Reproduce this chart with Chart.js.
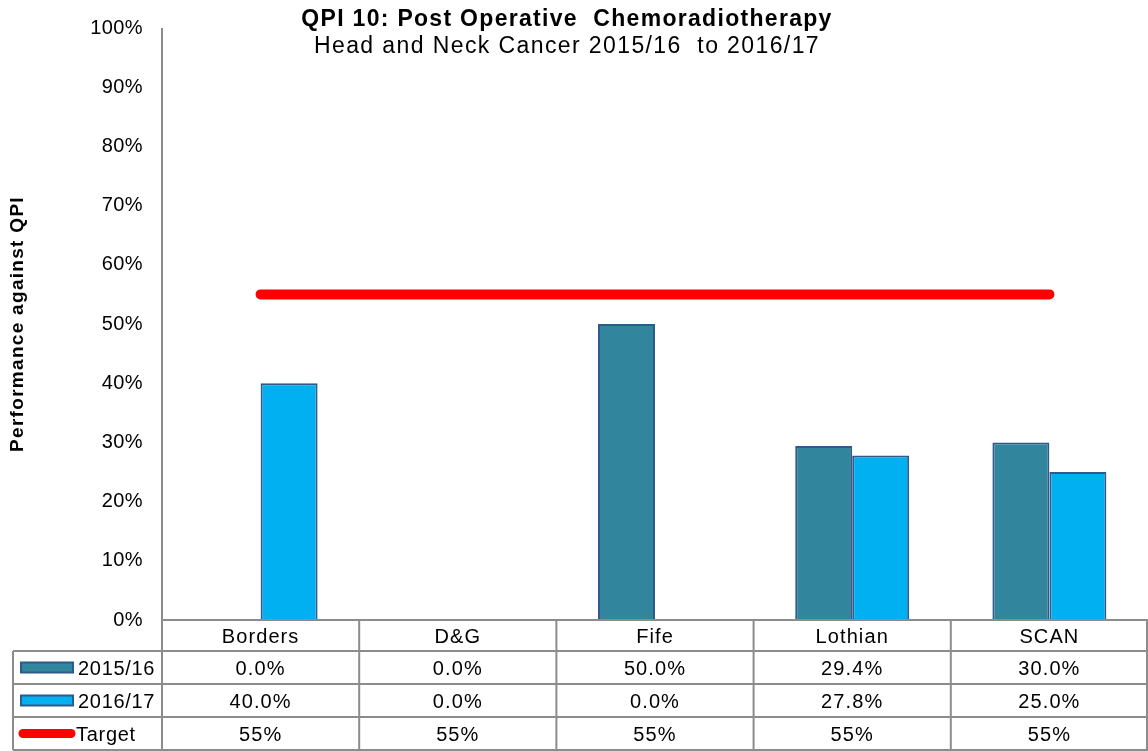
<!DOCTYPE html>
<html>
<head>
<meta charset="utf-8">
<script src="https://cdn.jsdelivr.net/npm/chart.js@4"></script>
<style>
html,body{margin:0;padding:0;background:#fff;}
#wrap{width:1148px;height:751px;position:relative;}
</style>
</head>
<body>
<div id="wrap"><canvas id="c" width="1148" height="751"></canvas></div>
<script>
const categories = ['Borders', 'D&G', 'Fife', 'Lothian', 'SCAN'];
const series2015 = [0.0, 0.0, 50.0, 29.4, 30.0];
const series2016 = [40.0, 0.0, 0.0, 27.8, 25.0];
const target = [55, 55, 55, 55, 55];
const seriesNames = ['2015/16', '2016/17', 'Target'];
const yTicks = [0, 10, 20, 30, 40, 50, 60, 70, 80, 90, 100];
const titleText = 'QPI 10: Post Operative  Chemoradiotherapy';
const subtitleText = 'Head and Neck Cancer 2015/16  to 2016/17';
const yTitle = 'Performance against QPI';

const FONT = "'Liberation Sans', Arial, sans-serif";
const GRID = '#8c8c8c';

const spacingPlugin = {
  id: 'spacingPlugin',
  beforeDraw(chart) { chart.ctx.letterSpacing = '0.4px'; }
};

const tablePlugin = {
  id: 'tablePlugin',
  afterDraw(chart) {
    const ctx = chart.ctx;
    const area = chart.chartArea;
    const xs = chart.scales.x;
    const top = area.bottom;
    const leftX = 13;
    const rowTops = [top, top + 31, top + 64, top + 97, top + 130];
    ctx.save();
    // titles
    ctx.fillStyle = '#000';
    ctx.textAlign = 'center';
    ctx.textBaseline = 'alphabetic';
    ctx.letterSpacing = '1.3px';
    ctx.font = 'bold 23px ' + FONT;
    ctx.fillText(titleText, 567, 26);
    ctx.letterSpacing = '1.4px';
    ctx.font = '23px ' + FONT;
    ctx.fillText(subtitleText, 567, 53);

    // y axis title
    ctx.save();
    ctx.translate(23, (area.top + area.bottom) / 2);
    ctx.rotate(-Math.PI / 2);
    ctx.letterSpacing = '1.3px';
    ctx.font = 'bold 19px ' + FONT;
    ctx.textAlign = 'center';
    ctx.fillText(yTitle, 0, 0);
    ctx.restore();

    // grid lines
    ctx.strokeStyle = GRID;
    ctx.lineWidth = 2;
    ctx.beginPath();
    ctx.moveTo(area.left, rowTops[0]); ctx.lineTo(area.right, rowTops[0]);
    for (let i = 1; i < rowTops.length; i++) {
      ctx.moveTo(leftX, rowTops[i]); ctx.lineTo(area.right, rowTops[i]);
    }
    ctx.moveTo(leftX, rowTops[1]); ctx.lineTo(leftX, rowTops[4]);
    ctx.moveTo(area.left, area.top); ctx.lineTo(area.left, rowTops[4]);
    const catW = (area.right - area.left) / categories.length;
    for (let i = 1; i <= categories.length; i++) {
      const x = Math.min(area.left + i * catW, area.right - 1);
      ctx.moveTo(x, rowTops[0]); ctx.lineTo(x, rowTops[4]);
    }
    ctx.stroke();

    // category labels and values
    ctx.fillStyle = '#000';
    ctx.font = '20px ' + FONT;
    ctx.letterSpacing = '1.1px';
    ctx.textAlign = 'center';
    const rows = [
      series2015.map(v => v.toFixed(1) + '%'),
      series2016.map(v => v.toFixed(1) + '%'),
      target.map(v => v + '%')
    ];
    categories.forEach((c, i) => {
      const cx = xs.getPixelForValue(i);
      ctx.fillText(c, cx, rowTops[0] + 23);
      rows.forEach((r, j) => {
        ctx.fillText(r[i], cx, rowTops[j + 1] + 24);
      });
    });

    // legend keys
    const ds = chart.data.datasets;
    for (let j = 0; j < 3; j++) {
      const cy = (rowTops[j + 1] + rowTops[j + 2]) / 2;
      if (j < 2) {
        ctx.fillStyle = ds[j].backgroundColor;
        ctx.strokeStyle = ds[j].borderColor;
        ctx.lineWidth = 2;
        ctx.fillRect(21, cy - 5, 52, 10);
        ctx.strokeRect(21, cy - 5, 52, 10);
      } else {
        ctx.strokeStyle = ds[j].borderColor;
        ctx.lineWidth = 9;
        ctx.lineCap = 'round';
        ctx.beginPath();
        ctx.moveTo(23, cy); ctx.lineTo(71, cy);
        ctx.stroke();
        ctx.lineCap = 'butt';
      }
      ctx.fillStyle = '#000';
      ctx.textAlign = 'left';
      ctx.letterSpacing = '0.7px';
      ctx.fillText(seriesNames[j], j < 2 ? 78 : 76, rowTops[j + 1] + 24);
    }
    ctx.restore();
  }
};

new Chart(document.getElementById('c'), {
  data: {
    labels: categories,
    datasets: [
      {
        type: 'bar', label: seriesNames[0], data: series2015,
        backgroundColor: '#31859c', borderColor: '#2f5a8a', borderWidth: 2,
        categoryPercentage: 0.578, barPercentage: 1, order: 2
      },
      {
        type: 'bar', label: seriesNames[1], data: series2016,
        backgroundColor: '#00b0f0', borderColor: '#2f5a8a', borderWidth: 2,
        categoryPercentage: 0.578, barPercentage: 1, order: 2
      },
      {
        type: 'line', label: seriesNames[2], data: target,
        borderColor: '#ff0000', backgroundColor: '#ff0000', borderWidth: 10,
        borderCapStyle: 'round', pointRadius: 0, pointHoverRadius: 0, fill: false, order: 1
      }
    ]
  },
  options: {
    responsive: false,
    animation: false,
    layout: { padding: { top: 28, bottom: 131, left: 0, right: 0 } },
    plugins: { legend: { display: false }, title: { display: false }, tooltip: { enabled: false } },
    scales: {
      x: { display: false, offset: true },
      y: {
        min: 0, max: 100,
        afterFit(s) { s.width = 162; s.paddingTop = 0; s.paddingBottom = 0; },
        afterBuildTicks(s) { s.ticks = yTicks.map(v => ({ value: v })); },
        grid: { display: false, drawTicks: false },
        border: { display: false },
        ticks: {
          padding: 19, color: '#000',
          font: { family: FONT, size: 20 },
          callback: v => v + '%'
        },
        title: { display: false }
      }
    }
  },
  plugins: [spacingPlugin, tablePlugin]
});
</script>
</body>
</html>
